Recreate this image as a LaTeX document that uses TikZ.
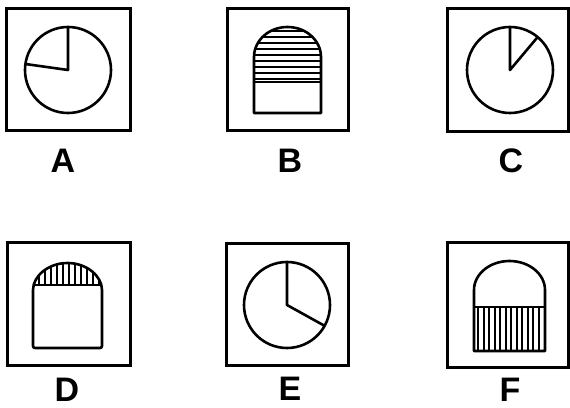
\documentclass[tikz,border=0pt]{standalone}
\usepackage{fontspec}
\setmainfont{Liberation Sans}
\usepackage{tikz}
\usetikzlibrary{positioning}

\begin{document}
\begin{tikzpicture}[
    x=1pt, y=1pt,
    panel/.style={draw, line width=3pt},
    figline/.style={draw, line width=2.6pt, line join=round},
    hatch/.style={line width=2pt},
    letter/.style={font=\fontsize{34}{34}\selectfont\bfseries, inner sep=0pt},
]
  \useasboundingbox (0,0) rectangle (570,407);

  % Top row: A, B, C
  \draw[panel] (6,276) rectangle (130,398);
  \draw[figline] (68,337) circle (43);
  \draw[figline] (68,380) -- (68,337) -- ++(172:43);
  \node[letter] (labA) at (63,246) {A};

  \draw[panel] (227,276) rectangle (348,398);
  \begin{scope}
    \clip (254,325) -- (254,350) arc[start angle=180, end angle=0, x radius=33.5, y radius=30] -- (321,325) -- cycle;
    \foreach \y in {328,334,...,380}
      \draw[hatch] (250,\y) -- (325,\y);
  \end{scope}
  \draw[figline] (254,294) -- (254,350) arc[start angle=180, end angle=0, x radius=33.5, y radius=30] -- (321,294) -- cycle;
  \draw[figline] (254,325) -- (321,325);
  \node[letter] (labB) at (290,246) {B};

  \draw[panel] (447,275) rectangle (568,398);
  \draw[figline] (510,337) circle (43);
  \draw[figline] (510,380) -- (510,337) -- ++(50:43);
  \node[letter] (labC) at (511,246) {C};

  % Bottom row: D, E, F
  \draw[panel] (7,42) rectangle (130,164);
  \begin{scope}
    \clip (33,122) -- (33,115) arc[start angle=180, end angle=0, x radius=34.5, y radius=29] -- (102,122) -- cycle;
    \foreach \x in {38.5,44.5,...,99}
      \draw[hatch] (\x,118) -- (\x,150);
  \end{scope}
  \draw[figline, rounded corners=2pt] (33,59) -- (33,115) arc[start angle=180, end angle=0, x radius=34.5, y radius=29] -- (102,59) -- cycle;
  \draw[figline] (33.5,122) -- (101.5,122);
  \node[letter] (labD) at (67,17.5) {D};

  \draw[panel] (226,42) rectangle (348,163);
  \draw[figline] (287,102) circle (43);
  \draw[figline] (287,145) -- (287,102) -- ++(-29:43);
  \node[letter] (labE) at (290,18.5) {E};

  \draw[panel] (447,40) rectangle (568,164);
  \begin{scope}
    \clip (474,56) rectangle (545,100);
    \foreach \x in {478,483.5,...,543}
      \draw[hatch] (\x,54) -- (\x,102);
  \end{scope}
  \draw[figline] (474,56) -- (474,117) arc[start angle=180, end angle=0, x radius=35.5, y radius=29] -- (545,56) -- cycle;
  \draw[figline] (474,100) -- (545,100);
  \node[letter] (labF) at (510,17.5) {F};
\end{tikzpicture}
\end{document}
